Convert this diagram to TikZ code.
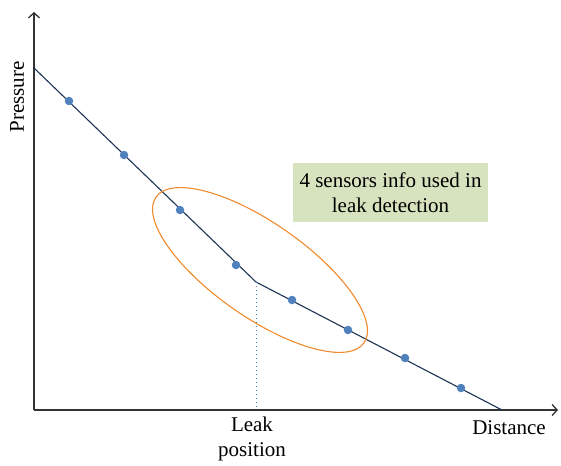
\documentclass[tikz,border=0pt]{standalone}
\usepackage{fontspec}
\setmainfont{Liberation Serif}
\usetikzlibrary{arrows.meta}
\definecolor{lineblue}{HTML}{1F3356}
\definecolor{dotblue}{HTML}{4F81BD}
\definecolor{ringorange}{HTML}{F08A2C}
\definecolor{boxgreen}{HTML}{D7E2BE}
\tikzset{axis/.style={line width=1.3pt,color=black!80,-{Straight Barb[length=5pt,width=11pt]}}}
\tikzset{sensor/.style={circle,fill=dotblue,inner sep=0pt,minimum size=8.5pt}}
\tikzset{lbl/.style={font=\fontsize{21}{25}\selectfont,align=center,inner sep=0pt}}

\begin{document}
\begin{tikzpicture}[x=1pt,y=-1pt]
                \useasboundingbox (0,0) rectangle (561,465);
                
                % Axes
                \coordinate (o) at (34,410);
                \coordinate (ytop) at (34,12);
                \coordinate (xend) at (558,410);
                \draw[axis] (o) -- (ytop);
                \draw[axis] (o) -- (xend);
                
                % Pressure line
                \coordinate (start) at (34,68);
                \coordinate (kink) at (256,282);
                \coordinate (stop) at (502,410);
                \draw[lineblue,line width=1.1pt] (start) -- (kink) -- (stop);
                
                % Leak guide
                \coordinate (leakfoot) at (256,410);
                \draw[dotblue,dash pattern=on 1pt off 3pt,line width=1pt] (kink) -- (leakfoot);
                
                % Sensors
                \node[sensor] (s1) at (69,101) {};
                \node[sensor] (s2) at (124,155) {};
                \node[sensor] (s3) at (180,210) {};
                \node[sensor] (s4) at (236,265) {};
                \node[sensor] (s5) at (292,300) {};
                \node[sensor] (s6) at (348,330) {};
                \node[sensor] (s7) at (405,358) {};
                \node[sensor] (s8) at (461,388) {};
                
                % Ring round the 4 sensors
                \coordinate (ec) at (260,270);
                \draw[ringorange,line width=1.1pt,rotate around={-35:(ec)}] (ec) ellipse [x radius=127, y radius=47];
                
                % Labels
                \node[lbl,fill=boxgreen,minimum width=195pt,minimum height=59pt] (info) at (390.5,192.5) {4 sensors info used in\\leak detection};
                \node[lbl,rotate=90] (press) at (17,97) {Pressure};
                \node[lbl] (leak) at (252,439) {Leak\\position};
                \node[lbl] (dist) at (509,428) {Distance};
            \end{tikzpicture}
\end{document}
